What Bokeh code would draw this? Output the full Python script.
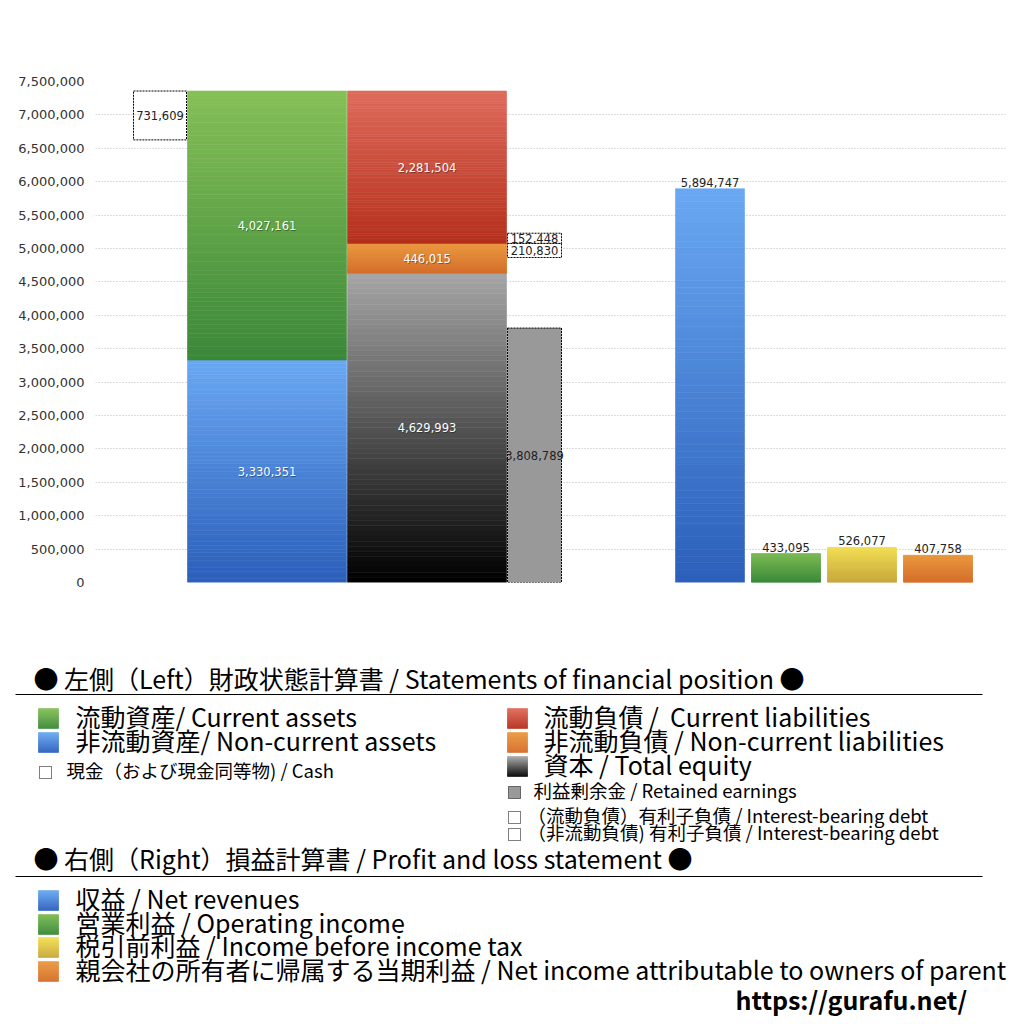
import numpy as np
from bokeh.plotting import figure
from bokeh.layouts import column
from bokeh.models import Range1d, SingleIntervalTicker, NumeralTickFormatter
from bokeh.embed import file_html
from bokeh.resources import INLINE
from bokeh.core.properties import value

# ---------------- data ----------------
current_assets = 4027161
noncurrent_assets = 3330351
cash = 731609
current_liabilities = 2281504
noncurrent_liabilities = 446015
total_equity = 4629993
retained_earnings = 3808789
current_interest_debt = 152448
noncurrent_interest_debt = 210830

pl_names = ["収益", "営業利益", "税引前利益", "親会社の所有者に帰属する当期利益"]
pl_en = ["Net revenues", "Operating income", "Income before income tax",
         "Net income attributable to owners of parent"]
pl_values = [5894747, 433095, 526077, 407758]

y_max = 7500000
y_step = 500000

# ---------------- styles ----------------
FONT_NUM = "DejaVu Sans"
FONT_JP = "Noto Sans CJK JP"
GREEN = ("#86c057", "#3b8839")
BLUE = ("#6aa8f2", "#2b5fba")
RED = ("#de6b5c", "#b52f1b")
ORANGE = ("#ea983f", "#d46d29")
BLACK = ("#a6a6a6", "#000000")
YELLOW = ("#f2de52", "#c6a63a")
GREEN2 = ("#7cba53", "#388838")
NUM_SIZE = "11.5px"


def hex2rgb(h):
    h = h.lstrip("#")
    return np.array([int(h[i:i + 2], 16) for i in (0, 2, 4)], dtype=float)


def mix(top, bot, t):
    a, b = hex2rgb(bot), hex2rgb(top)
    c = a + (b - a) * t
    return "#%02x%02x%02x" % tuple(int(round(v)) for v in c)


def frame_off(fig):
    try:
        fig.frame_align = False
    except Exception:
        pass


# ---------------- chart figure ----------------
W = 1020
CH = 640
FL, FR, FT, FB = 95, 1005, 81, 582

p = figure(width=W, height=CH, x_range=Range1d(0, FR - FL), y_range=Range1d(0, y_max),
           output_backend="svg", toolbar_location=None,
           min_border_left=FL, min_border_right=W - FR, min_border_top=FT, min_border_bottom=CH - FB)
frame_off(p)
p.outline_line_color = None
p.xaxis.visible = False
p.xgrid.visible = False
p.ygrid.grid_line_color = "#b8b8b8"
p.ygrid.grid_line_dash = "1 2"
p.ygrid.grid_line_width = 1
p.yaxis.ticker = SingleIntervalTicker(interval=y_step)
p.yaxis.formatter = NumeralTickFormatter(format="0,0")
p.yaxis.axis_line_color = None
p.yaxis.major_tick_line_color = None
p.yaxis.minor_tick_line_color = None
p.yaxis.major_label_text_font = FONT_NUM
p.yaxis.major_label_text_font_size = "13px"
p.yaxis.major_label_text_color = "#333333"
p.yaxis.major_label_standoff = 5


def grad_quad(fig, left, right, bottom, top, colors, n=60):
    edges = np.linspace(bottom, top, n + 1)
    t = (np.arange(n) + 0.5) / n
    cols = [mix(colors[0], colors[1], ti) for ti in t]
    fig.quad(left=[left] * n, right=[right] * n, bottom=edges[:-1], top=edges[1:],
             fill_color=cols, line_color=cols, line_width=0.6)


# layout positions (x data units == px inside frame)
CASH_L, CASH_R = 38, 91
AS_L, AS_R = 92, 251
LI_L, LI_R = 252, 411
RE_L, RE_R = 412, 466
PL_LEFTS = [580, 656, 732, 808]
PL_W = 69

total_assets = noncurrent_assets + current_assets
eq_top = total_equity
ncl_top = eq_top + noncurrent_liabilities
cl_top = ncl_top + current_liabilities

grad_quad(p, AS_L, AS_R, 0, noncurrent_assets, BLUE)
grad_quad(p, AS_L, AS_R, noncurrent_assets, total_assets, GREEN)
grad_quad(p, LI_L, LI_R, 0, eq_top, BLACK)
grad_quad(p, LI_L, LI_R, eq_top, ncl_top, ORANGE)
grad_quad(p, LI_L, LI_R, ncl_top, cl_top, RED)
p.quad(left=[RE_L], right=[RE_R], bottom=[0], top=[retained_earnings],
       fill_color="#999999", line_color="black", line_dash="2 1", line_width=1)
p.quad(left=[CASH_L], right=[CASH_R], bottom=[total_assets - cash], top=[total_assets],
       fill_color=None, line_color="black", line_dash="2 1", line_width=1)
p.quad(left=[RE_L], right=[RE_R], bottom=[ncl_top], top=[ncl_top + current_interest_debt],
       fill_color="white", line_color="black", line_dash="2 1", line_width=1)
p.quad(left=[RE_L], right=[RE_R], bottom=[ncl_top - noncurrent_interest_debt], top=[ncl_top],
       fill_color="white", line_color="black", line_dash="2 1", line_width=1)

pl_cols = [BLUE, GREEN2, YELLOW, ORANGE]
for xl, v, c in zip(PL_LEFTS, pl_values, pl_cols):
    grad_quad(p, xl, xl + PL_W, 0, v, c)


def fmt(v):
    return f"{v:,}"


in_x = [(AS_L + AS_R) / 2, (AS_L + AS_R) / 2, (LI_L + LI_R) / 2, (LI_L + LI_R) / 2, (LI_L + LI_R) / 2]
in_y = [noncurrent_assets / 2, noncurrent_assets + current_assets / 2, eq_top / 2,
        (eq_top + ncl_top) / 2, (ncl_top + cl_top) / 2]
in_t = [fmt(noncurrent_assets), fmt(current_assets), fmt(total_equity),
        fmt(noncurrent_liabilities), fmt(current_liabilities)]
p.text(x=[x + 0.8 for x in in_x], y=in_y, text=in_t, y_offset=0.8, text_color="#000000", text_alpha=0.35,
       text_font=value(FONT_NUM), text_font_size=NUM_SIZE, text_align="center", text_baseline="middle")
p.text(x=in_x, y=in_y, text=in_t, text_color="white",
       text_font=value(FONT_NUM), text_font_size=NUM_SIZE, text_align="center", text_baseline="middle")

dk_x = [(CASH_L + CASH_R) / 2, (RE_L + RE_R) / 2, (RE_L + RE_R) / 2, (RE_L + RE_R) / 2]
dk_y = [total_assets - cash / 2, retained_earnings / 2,
        ncl_top + current_interest_debt / 2, ncl_top - noncurrent_interest_debt / 2]
dk_t = [fmt(cash), fmt(retained_earnings), fmt(current_interest_debt), fmt(noncurrent_interest_debt)]
p.text(x=dk_x, y=dk_y, text=dk_t, text_color="#222222",
       text_font=value(FONT_NUM), text_font_size=NUM_SIZE, text_align="center", text_baseline="middle")

p.text(x=[c + PL_W / 2 for c in PL_LEFTS], y=pl_values, text=[fmt(v) for v in pl_values], y_offset=-2,
       text_color="#222222", text_font=value(FONT_NUM), text_font_size=NUM_SIZE,
       text_align="center", text_baseline="bottom")

# ---------------- legend figure (data coords == page px) ----------------
LH = 380
q = figure(width=W, height=LH, x_range=Range1d(0, W), y_range=Range1d(CH + LH, CH),
           output_backend="svg", toolbar_location=None, x_axis_type=None, y_axis_type=None,
           min_border=0, min_border_left=0, min_border_right=0, min_border_top=0, min_border_bottom=0)
frame_off(q)
q.outline_line_color = None

TY = -3  # text vertical nudge


def ltext(x, y, s, size, bold=False):
    q.text(x=[x], y=[y + TY], text=[s], text_font=value(FONT_JP), text_font_size=size,
           text_font_style="bold" if bold else "normal",
           text_color="black", text_align="left", text_baseline="middle")


def lgrad(x0, x1, y0, y1, colors, n=20):
    edges = np.linspace(y1, y0, n + 1)
    t = (np.arange(n) + 0.5) / n
    cols = [mix(colors[0], colors[1], ti) for ti in t]
    q.quad(left=[x0] * n, right=[x1] * n, bottom=edges[:-1], top=edges[1:],
           fill_color=cols, line_color=cols, line_width=0.6)


def dotbox(x0, x1, y0, y1, fill=None):
    q.quad(left=[x0], right=[x1], bottom=[y1], top=[y0], fill_color=fill,
           line_color="black", line_dash="1 1", line_width=1)


BIG = "25px"
SMALL = "18.5px"
ltext(33, 680, "● 左側（Left）財政状態計算書 / Statements of financial position ●", BIG)
q.line(x=[15, 982], y=[694, 694], line_color="black", line_width=1)

lgrad(38, 58, 708, 728, GREEN)
ltext(75, 718, "流動資産/ Current assets", BIG)
lgrad(38, 58, 732, 752, BLUE)
ltext(75, 742, "非流動資産/ Non-current assets", BIG)
dotbox(39, 51, 766, 778)
ltext(66, 772, "現金（および現金同等物) / Cash", SMALL)

lgrad(507, 527, 708, 728, RED)
ltext(543, 718, "流動負債 /\u00a0 Current liabilities", BIG)
lgrad(507, 527, 732, 752, ORANGE)
ltext(543, 742, "非流動負債 / Non-current liabilities", BIG)
lgrad(507, 527, 756, 776, BLACK)
ltext(543, 766, "資本 / Total equity", BIG)
dotbox(508, 520, 786, 798, fill="#999999")
ltext(533, 792, "利益剰余金 / Retained earnings", SMALL)
dotbox(508, 520, 811, 823)
ltext(527, 817, "（流動負債）有利子負債 / Interest-bearing debt", SMALL)
dotbox(508, 520, 828, 840)
ltext(527, 834, "（非流動負債) 有利子負債 / Interest-bearing debt", SMALL)

ltext(33, 860, "● 右側（Right）損益計算書 / Profit and loss statement ●", BIG)
q.line(x=[15, 982], y=[876, 876], line_color="black", line_width=1)

for i, (jp, en, c) in enumerate(zip(pl_names, pl_en, pl_cols)):
    yc = [900, 924, 947, 971][i]
    lgrad(38, 58, yc - 10, yc + 10, c)
    ltext(75, yc, f"{jp} / {en}", BIG)

ltext(735, 1001, "https://gurafu.net/", BIG, bold=True)

layout = column(p, q, spacing=0)
open("out.html", "w").write(file_html(layout, INLINE))
